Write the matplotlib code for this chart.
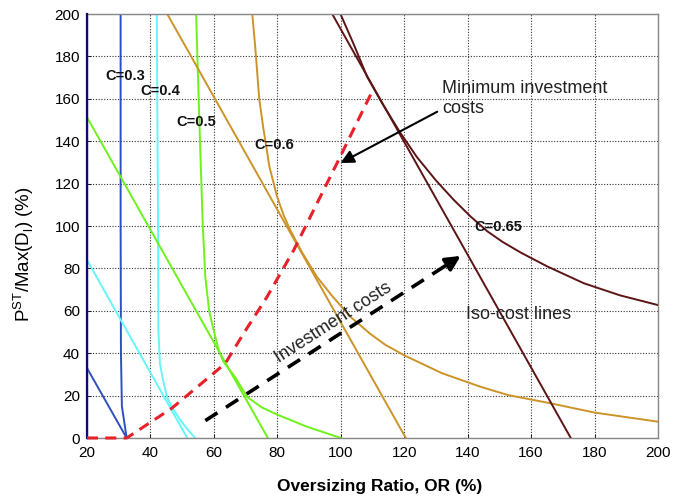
import matplotlib
matplotlib.use('Agg')
import matplotlib.pyplot as plt

plt.rcParams['font.family'] = ['Liberation Sans', 'DejaVu Sans']

# ---- data ----
x_ticks = [20, 40, 60, 80, 100, 120, 140, 160, 180, 200]
y_ticks = [0, 20, 40, 60, 80, 100, 120, 140, 160, 180, 200]

c02_x = [20, 20]
c02_y = [0, 200]

c03_line_x = [20, 32.5]
c03_line_y = [33, 0]
c03_curve_x = [30.6, 30.6, 30.7, 31.0, 32.5]
c03_curve_y = [200, 100, 40, 15, 0]

c04_line_x = [20, 51.6]
c04_line_y = [84, 0]
c04_curve_x = [42.0, 42.2, 42.4, 42.5, 43.0, 44.0, 45.3, 47.0, 49.4, 52.0, 54.1]
c04_curve_y = [200, 150, 100, 51, 35, 27, 19, 14, 8.5, 3.5, 0]

c05_line_x = [20, 77]
c05_line_y = [151.3, 0]
c05_curve_x = [54.4, 55.0, 55.7, 56.5, 57.3, 58.5, 59.9, 61.5, 63.0, 66.8, 70.4, 75.0, 80.0, 89.4, 100]
c05_curve_y = [200, 170, 136, 100, 76, 60, 51, 41.5, 36, 28.5, 19.5, 14.5, 11, 5.3, 0]

c06_line_x = [45.3, 120.5]
c06_line_y = [200, 0]
c06_curve_x = [72.1, 73.0, 74.3, 75.5, 77.5, 79.9, 82.0, 84.1, 88.0, 92.5, 97.0, 103.0,
               109.4, 114.0, 120.0, 132.0, 144.0, 152.6, 166.0, 180.0, 200.0]
c06_curve_y = [200, 185, 160, 147, 128, 114, 105, 98, 87, 76, 67.5, 57.2,
               49, 44, 39, 30.5, 24.2, 20.3, 16.4, 12, 7.7]

c065_line_x = [97.3, 172.5]
c065_line_y = [200, 0]
c065_curve_x = [99.9, 104, 108.3, 113, 118.8, 124, 130, 135.5, 140.9, 146.2, 151,
                156.7, 165, 176.6, 188, 200]
c065_curve_y = [200, 186, 170.4, 158, 143.9, 132.5, 121.5, 112.5, 104.5, 97.5, 92.5,
                87.5, 81, 73, 67.3, 62.7]

min_cost_x = [20, 32.5, 46.7, 59.9, 63.6, 69.4, 76.8, 85.2, 98.8, 110.4]
min_cost_y = [0, 0, 14, 30.5, 35.2, 49.4, 66.7, 88.7, 129.6, 165]

inv_arrow_x = [57.3, 137.8]
inv_arrow_y = [8.2, 85.9]

labels = ['C=0.3', 'C=0.4', 'C=0.5', 'C=0.6', 'C=0.65']
label_x = [25.7, 36.7, 48.1, 72.7, 142.0]
label_y = [170.9, 163.5, 149.2, 138.0, 99.5]

# ---- figure ----
W, H = 685, 496
fig = plt.figure(figsize=(W / 100, H / 100), dpi=100)
ax = fig.add_axes([87 / W, 1 - 438 / H, (658 - 87) / W, (438 - 14) / H])

navy = '#0a0a70'
blue = '#2e4fbf'
cyan = '#66f5ff'
green = '#6ef21a'
gold = '#cc9428'
maroon = '#5c1414'
lw = 1.4

ax.plot(c02_x, c02_y, color=navy, lw=1.6, clip_on=False, zorder=3)
ax.plot(c03_line_x, c03_line_y, color=blue, lw=lw)
ax.plot(c03_curve_x, c03_curve_y, color=blue, lw=lw)
ax.plot(c04_line_x, c04_line_y, color=cyan, lw=lw)
ax.plot(c04_curve_x, c04_curve_y, color=cyan, lw=lw)
ax.plot(c05_line_x, c05_line_y, color=green, lw=lw)
ax.plot(c05_curve_x, c05_curve_y, color=green, lw=lw)
ax.plot(c06_line_x, c06_line_y, color=gold, lw=lw)
ax.plot(c06_curve_x, c06_curve_y, color=gold, lw=lw)
ax.plot(c065_line_x, c065_line_y, color=maroon, lw=lw)
ax.plot(c065_curve_x, c065_curve_y, color=maroon, lw=lw)

ax.plot(min_cost_x, min_cost_y, color='#e8202a', lw=2.2, dashes=(3.6, 2.4),
        clip_on=False, zorder=4)

# dashed investment-cost arrow
fx = 0.93
mid_x = inv_arrow_x[0] + fx * (inv_arrow_x[1] - inv_arrow_x[0])
mid_y = inv_arrow_y[0] + fx * (inv_arrow_y[1] - inv_arrow_y[0])
ax.plot([inv_arrow_x[0], mid_x], [inv_arrow_y[0], mid_y], color='k', lw=2.6,
        dashes=(4.0, 2.8), dash_capstyle='butt', zorder=4)
ax.annotate('', xy=(inv_arrow_x[1], inv_arrow_y[1]), xytext=(mid_x, mid_y),
            arrowprops=dict(arrowstyle='-|>', color='k', lw=2.6,
                            mutation_scale=22, shrinkA=0, shrinkB=0), zorder=5)
ax.text(97.7, 54.5, 'Investment costs', rotation=32.7, rotation_mode='anchor',
        ha='center', va='center', fontsize=13, color='#222222')

# minimum investment costs annotation
ax.annotate('', xy=(99.9, 129.7), xytext=(130.4, 153.9),
            arrowprops=dict(arrowstyle='-|>', color='k', lw=1.5,
                            mutation_scale=20, shrinkA=0, shrinkB=0), zorder=5)
ax.text(132.0, 162.6, 'Minimum investment', fontsize=13, ha='left', va='baseline',
        color='#222222')
ax.text(132.0, 153.2, 'costs', fontsize=13, ha='left', va='baseline', color='#222222')
ax.text(139.4, 56.1, 'Iso-cost lines', fontsize=13, ha='left', va='baseline',
        color='#222222')

for t, x, y in zip(labels, label_x, label_y):
    ax.text(x, y, t, fontsize=10.5, fontweight='bold', ha='left', va='center',
            color='#111111', zorder=6)

ax.set_xlim(20, 200)
ax.set_ylim(0, 200)
ax.set_xticks(x_ticks)
ax.set_yticks(y_ticks)
ax.tick_params(direction='in', length=3, labelsize=11, width=0.6)
ax.tick_params(axis='x', pad=6)
ax.tick_params(axis='y', pad=5)
ax.grid(True, linestyle=(0, (1, 1.5)), color='#333333', lw=0.8)
ax.set_axisbelow(True)
for s in ax.spines.values():
    s.set_color('#888888')
    s.set_linewidth(1.0)

ax.set_xlabel('Oversizing Ratio, OR (%)', fontsize=12.5, fontweight='bold')
ax.xaxis.set_label_coords(0.513, -0.097)
ax.set_ylabel(r'P$^{\mathregular{ST}}$/Max(D$_{\mathregular{l}}$) (%)', fontsize=13.5)
ax.yaxis.set_label_coords(-0.09, 0.434)

fig.savefig('out.png', dpi=100)
